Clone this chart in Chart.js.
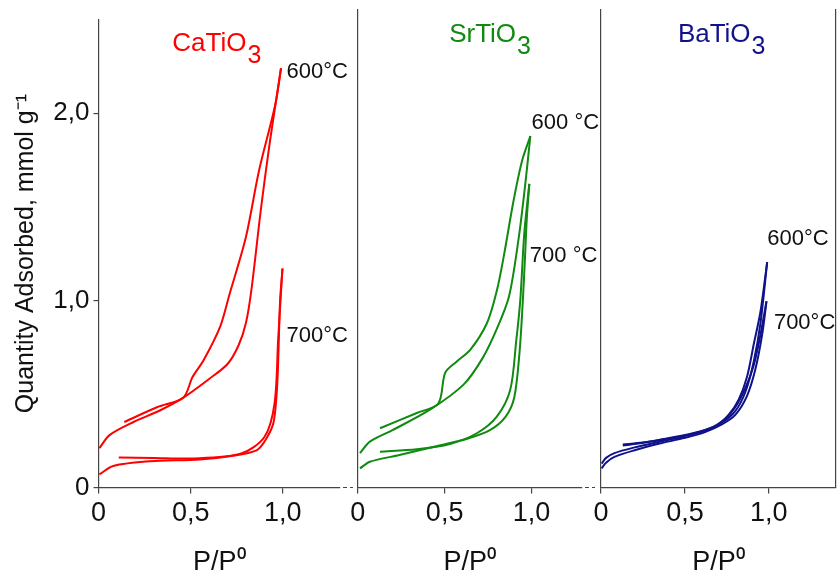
<!DOCTYPE html>
<html>
<head>
<meta charset="utf-8">
<script src="https://cdn.jsdelivr.net/npm/chart.js@4/dist/chart.umd.min.js"></script>
<style>
  html, body { margin: 0; padding: 0; background: #fff; }
  #wrap { position: relative; width: 837px; height: 574px; }
  #wrap canvas { position: absolute; left: 0; top: 0; }
</style>
</head>
<body>
<div id="wrap">
  <canvas id="c1" width="837" height="574"></canvas>
  <canvas id="c2" width="837" height="574"></canvas>
  <canvas id="c3" width="837" height="574"></canvas>
</div>
<script>
// ticks
const xTicks = [0, 0.5, 1.0];
const xTickLabels = ['0', '0,5', '1,0'];
const yTicks = [0, 1, 2];
const yTickLabels = ['0', '1,0', '2,0'];

// CaTiO3 isotherms, [P/P0, mmol/g]
const ca600ads = [[0.005,0.21],[0.06,0.28],[0.19,0.35],[0.33,0.41],[0.46,0.48],[0.6,0.58],[0.7,0.66],[0.76,0.76],[0.80,0.88],[0.83,1.06],[0.88,1.48],[0.93,1.85],[0.99,2.24]];
const ca600des = [[0.14,0.35],[0.32,0.43],[0.46,0.48],[0.51,0.59],[0.57,0.68],[0.66,0.86],[0.71,1.03],[0.80,1.34],[0.87,1.69],[0.96,2.05],[0.99,2.24]];
const ca700ads = [[0.005,0.07],[0.08,0.115],[0.28,0.14],[0.55,0.15],[0.73,0.17],[0.86,0.2],[0.91,0.26],[0.95,0.35],[0.97,0.56],[0.985,1.0],[0.998,1.17]];
const ca700des = [[0.11,0.16],[0.3,0.158],[0.5,0.155],[0.77,0.18],[0.9,0.27],[0.955,0.45],[0.975,0.8],[0.998,1.17]];

// SrTiO3
const sr600ads = [[0.013,0.18],[0.07,0.24],[0.2,0.30],[0.42,0.41],[0.61,0.54],[0.72,0.68],[0.8,0.83],[0.87,1.0],[0.925,1.30],[0.964,1.59],[0.993,1.84]];
const sr600des = [[0.128,0.31],[0.34,0.39],[0.464,0.44],[0.503,0.60],[0.57,0.66],[0.647,0.72],[0.743,0.86],[0.80,1.03],[0.84,1.21],[0.896,1.5],[0.945,1.71],[0.993,1.84]];
const sr700ads = [[0.013,0.10],[0.07,0.135],[0.24,0.17],[0.47,0.22],[0.63,0.255],[0.76,0.30],[0.85,0.37],[0.9,0.47],[0.93,0.7],[0.948,0.95],[0.962,1.2],[0.972,1.4],[0.987,1.59]];
const sr700des = [[0.128,0.187],[0.34,0.2],[0.53,0.228],[0.685,0.284],[0.80,0.371],[0.877,0.51],[0.912,0.77],[0.935,0.98],[0.958,1.33],[0.987,1.59]];

// BaTiO3
const ba600ads = [[0.004,0.125],[0.03,0.155],[0.08,0.18],[0.2,0.21],[0.35,0.24],[0.5,0.27],[0.62,0.30],[0.72,0.34],[0.8,0.40],[0.86,0.50],[0.91,0.66],[0.95,0.86],[0.99,1.18]];
const ba600des = [[0.13,0.225],[0.25,0.235],[0.4,0.255],[0.55,0.28],[0.68,0.32],[0.76,0.38],[0.82,0.46],[0.87,0.58],[0.91,0.75],[0.95,0.92],[0.99,1.18]];
const ba700ads = [[0.004,0.10],[0.03,0.13],[0.08,0.16],[0.2,0.195],[0.35,0.23],[0.5,0.26],[0.62,0.29],[0.72,0.33],[0.8,0.38],[0.87,0.48],[0.92,0.62],[0.96,0.80],[0.986,0.975]];
const ba700des = [[0.13,0.22],[0.22,0.23],[0.35,0.25],[0.5,0.275],[0.65,0.31],[0.74,0.36],[0.80,0.42],[0.86,0.52],[0.91,0.64],[0.95,0.80],[0.986,0.975]];

// temperature labels
const caNotes = [{ text: '600°C', x: 1.02, y: 2.22 }, { text: '700°C', x: 1.02, y: 0.81 }];
const srNotes = [{ text: '600 °C', x: 1.0, y: 1.91 }, { text: '700 °C', x: 0.99, y: 1.21 }];
const baNotes = [{ text: '600°C', x: 0.99, y: 1.30 }, { text: '700°C', x: 1.03, y: 0.86 }];

const FONT = "'Liberation Sans', Arial, sans-serif";
const axisColor = '#444';
Chart.defaults.font.family = FONT;
Chart.defaults.color = '#111';

const pts = a => a.map(p => ({ x: p[0], y: p[1] }));

// temperature labels + compound name, drawn at data coordinates
function notesPlugin(cfg) {
  return {
    id: 'notes',
    afterDatasetsDraw(chart) {
      const { ctx, scales: { x, y }, chartArea } = chart;
      ctx.save();
      ctx.fillStyle = '#111';
      ctx.font = '22px ' + FONT;
      ctx.textBaseline = 'middle';
      cfg.notes.forEach(n => ctx.fillText(n.text, x.getPixelForValue(n.x), y.getPixelForValue(n.y)));
      // compound name with big subscript
      ctx.fillStyle = cfg.color;
      ctx.font = '26px ' + FONT;
      ctx.textBaseline = 'alphabetic';
      const tx = x.getPixelForValue(cfg.titleX), ty = y.getPixelForValue(2.33);
      ctx.fillText(cfg.name, tx, ty);
      const w = ctx.measureText(cfg.name).width;
      ctx.font = '25px ' + FONT;
      ctx.fillText('3', tx + w + 1, ty + 12);
      // axis break mark
      if (cfg.breakMark) {
        ctx.strokeStyle = axisColor;
        ctx.lineWidth = 1.2;
        ctx.setLineDash([4, 3]);
        ctx.beginPath();
        ctx.moveTo(chartArea.right + 3, chartArea.bottom);
        ctx.lineTo(chartArea.right + 13, chartArea.bottom);
        ctx.stroke();
      }
      ctx.restore();
    }
  };
}

function panel(id, cfg) {
  const first = cfg.first;
  const scales = {
    x: {
      type: 'linear', min: 0, max: cfg.xMax,
      afterBuildTicks: s => { s.ticks = xTicks.map(v => ({ value: v })); },
      afterFit: s => { s.height = 86.5; },
      ticks: { callback: (v, i) => xTickLabels[i], font: { size: 27 }, color: '#111', padding: 4, maxRotation: 0, autoSkip: false },
      grid: { display: true, drawOnChartArea: false, tickLength: 6, color: axisColor, lineWidth: 1.2 },
      border: { display: true, color: axisColor, width: 1.2 },
      title: { display: true, text: 'P/P⁰', font: { size: 27 }, color: '#111', padding: { top: 0, bottom: -5 } }
    },
    y: {
      min: 0, max: 2.5,
      afterBuildTicks: s => { s.ticks = yTicks.map(v => ({ value: v })); },
      afterFit: s => { s.width = cfg.yLeft; },
      ticks: { display: first, callback: (v, i) => yTickLabels[i], font: { size: 26 }, color: '#111', padding: 4 },
      grid: { display: first, drawOnChartArea: false, tickLength: 5, color: axisColor, lineWidth: 1.2 },
      border: { display: true, color: axisColor, width: 1.2 },
      title: { display: first, text: 'Quantity Adsorbed, mmol g⁻¹', font: { size: 25 }, color: '#111', padding: { top: 11 } }
    }
  };
  if (cfg.rightBorder) {
    scales.y2 = {
      position: 'right', min: 0, max: 2.5,
      afterFit: s => { s.width = 1; },
      ticks: { display: false }, grid: { display: false },
      border: { display: true, color: axisColor, width: 1.2 }
    };
  }
  return new Chart(document.getElementById(id), {
    type: 'line',
    data: {
      datasets: cfg.series.map(s => ({
        data: pts(s),
        borderColor: cfg.color,
        borderWidth: 2,
        pointRadius: 0,
        tension: 0.3,
        fill: false
      }))
    },
    options: {
      responsive: false,
      animation: false,
      layout: { padding: { top: 10, right: cfg.padRight, left: 0, bottom: 0 } },
      plugins: { legend: { display: false }, tooltip: { enabled: false } },
      scales: scales
    },
    plugins: [notesPlugin(cfg)]
  });
}

panel('c1', {
  first: true, color: '#ff0000', name: 'CaTiO', titleX: 0.40, notes: caNotes,
  series: [ca600ads, ca600des, ca700ads, ca700des],
  xMax: 1.31, yLeft: 98.5, padRight: 837 - 340, breakMark: true
});
panel('c2', {
  first: false, color: '#108a10', name: 'SrTiO', titleX: 0.526, notes: srNotes,
  series: [sr600ads, sr600des, sr700ads, sr700des],
  xMax: 1.29, yLeft: 357.7, padRight: 837 - 582, breakMark: true
});
panel('c3', {
  first: false, color: '#10128a', name: 'BaTiO', titleX: 0.458, notes: baNotes,
  series: [ba600ads, ba600des, ba700ads, ba700des],
  xMax: 1.40, yLeft: 601, padRight: 0, rightBorder: true
});
</script>
</body>
</html>
